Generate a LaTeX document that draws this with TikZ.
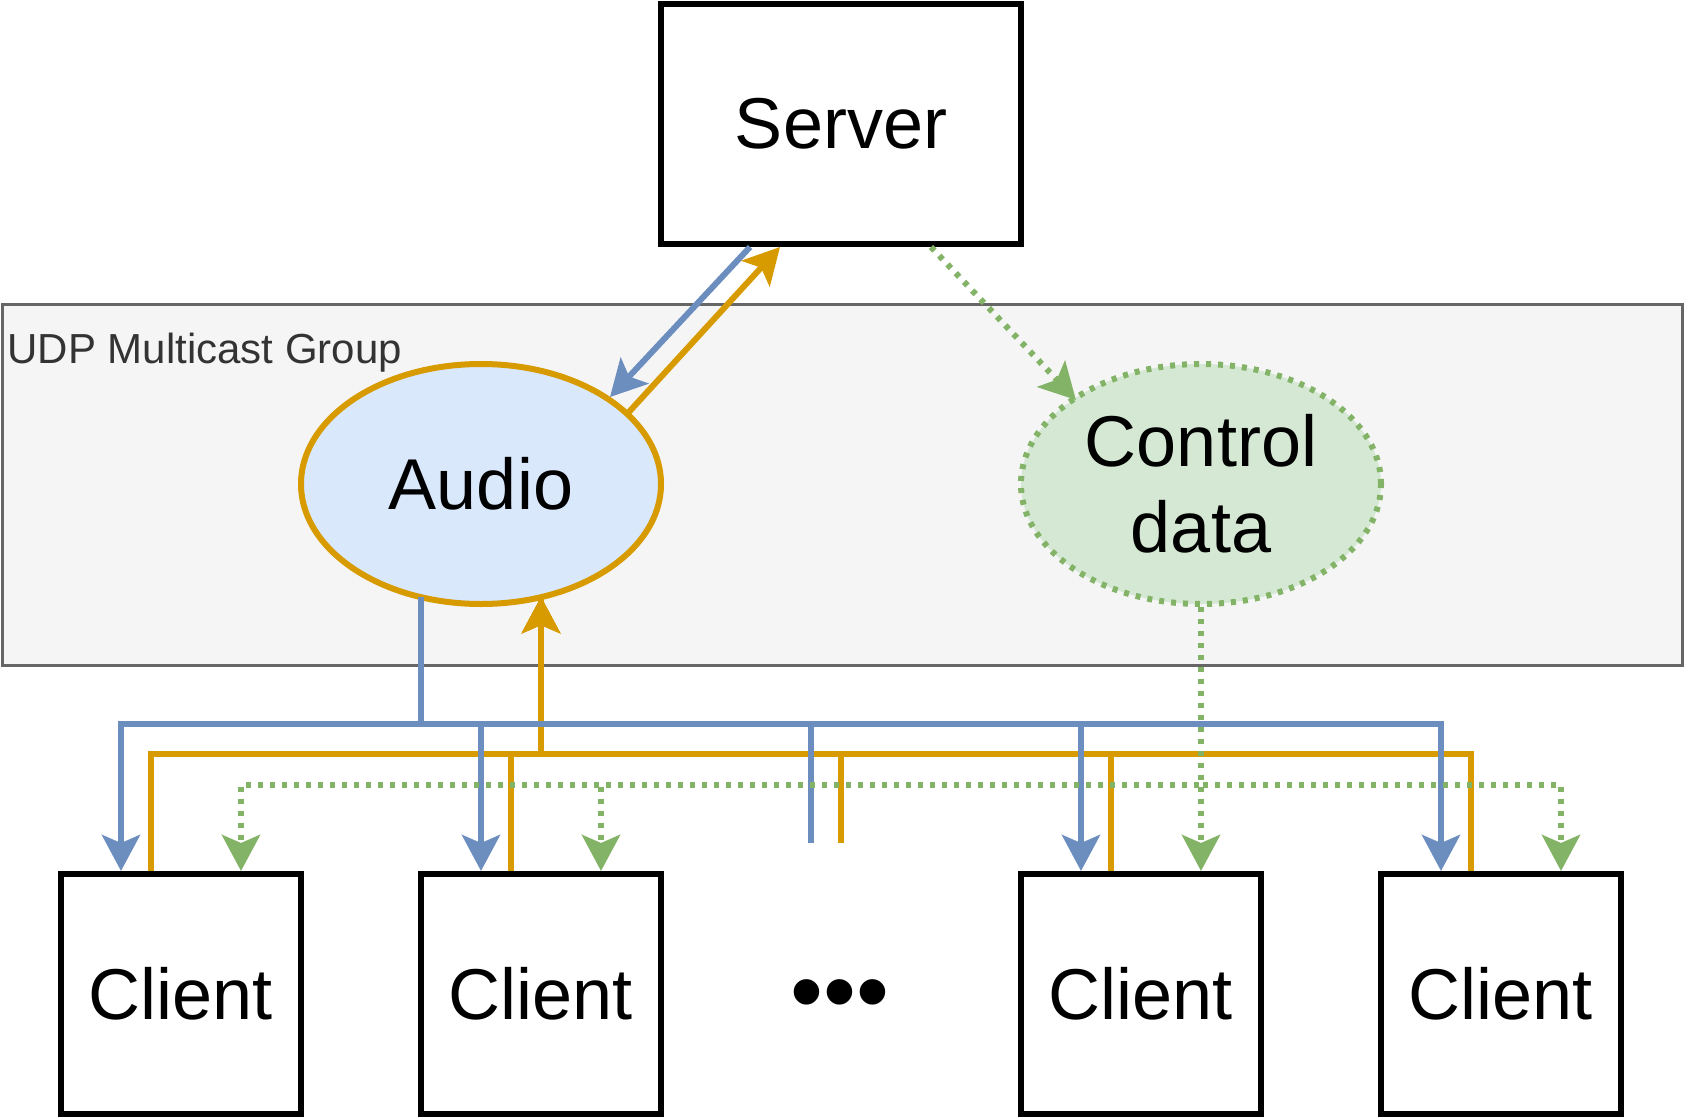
\documentclass[tikz,border=0pt]{standalone}
\usepackage{fontspec}
\setmainfont{Liberation Sans}
\usetikzlibrary{shapes, arrows.meta, positioning, calc}

\definecolor{downblue}{HTML}{6C8EBF}
\definecolor{audiofill}{HTML}{DAE8FC}
\definecolor{uporange}{HTML}{D79B00}
\definecolor{ctrlgreen}{HTML}{82B366}
\definecolor{ctrlfill}{HTML}{D5E8D4}
\definecolor{groupfill}{HTML}{F5F5F5}
\definecolor{groupline}{HTML}{666666}
\definecolor{grouptext}{HTML}{333333}

\begin{document}
\begin{tikzpicture}[x=0.5pt, y=-0.5pt,
    bigfont/.style={font=\fontsize{36}{43}\selectfont},
    machine/.style={draw, line width=3pt, inner sep=0pt, minimum width=120pt, minimum height=120pt, bigfont},
    cast/.style={ellipse, line width=3pt, inner sep=0pt, minimum width=180pt, minimum height=120pt, align=center, bigfont},
    arrowtip/.style={-{Stealth[length=18pt, width=19pt, inset=4pt]}},
    downlink/.style={draw=downblue, line width=3pt},
    uplink/.style={draw=uporange, line width=3pt},
    ctrllink/.style={draw=ctrlgreen, line width=3pt, dash pattern=on 2.5pt off 3.5pt}]

    \useasboundingbox (0,0) rectangle (1686,1119);

    % --- Multicast-Gruppe ---
    \node[draw=groupline, fill=groupfill, line width=1.5pt, minimum width=840pt, minimum height=180.5pt] (mcast) at (842, 484.5) {};
    \node[anchor=base west, inner sep=0pt, text=grouptext, font=\fontsize{21}{25}\selectfont] (mcastlabel) at (7, 363) {UDP Multicast Group};

    % Knoten
    \node[machine, minimum width=180pt] (server) at (841, 124) {Server};
    \node[cast, draw=uporange, fill=audiofill] (audio) at (481, 484) {Audio};
    \node[cast, draw=ctrlgreen, fill=ctrlfill, dash pattern=on 2.5pt off 3.5pt] (ctrl) at (1201, 484) {Control\\data};

    \node[machine] (c1) at (181, 994) {Client};
    \node[machine] (c2) at (541, 994) {Client};
    \node[machine] (c3) at (1141, 994) {Client};
    \node[machine] (c4) at (1501, 994) {Client};
    \node[inner sep=0pt, font=\fontsize{47}{52}\selectfont] (dots) at (840, 1002) {•••};

    % Hilfspunkte
    \coordinate (asrc) at ($(audio.center)+(-60,113)$);
    \coordinate (aout) at ($(audio.center)+(60,113)$);
    \coordinate (busb) at (0, 724);
    \coordinate (buso) at (0, 754);
    \coordinate (busg) at (0, 785);
    \coordinate (stubb) at (811, 843);
    \coordinate (stubo) at (841, 843);

    % Server <-> Audio / Control
    \draw[downlink, arrowtip] ([xshift=-45.5pt]server.south) -- ($(audio.center)+(129,-87)$);
    \draw[uplink, arrowtip] ($(audio.center)+(147,-71)$) -- ([xshift=-30.5pt]server.south);
    \draw[ctrllink, arrowtip] ([xshift=45pt]server.south) -- ($(ctrl.center)+(-125,-84)$);

    % Clients -> Audio (orange)
    \foreach \c in {c1, c2, c3, c4} {
        \coordinate (ot) at ([xshift=-15pt]\c.north);
        \draw[uplink, arrowtip] (ot) |- (aout |- buso) -- (aout);
    }
    \draw[uplink] (stubo) |- (aout |- buso) -- (aout);

    % Audio -> Clients (blau)
    \foreach \c in {c1, c2, c3, c4} {
        \coordinate (bt) at ([xshift=-30pt]\c.north);
        \draw[downlink, arrowtip] (asrc) |- (bt |- busb) -- (bt);
    }
    \draw[downlink] (asrc) |- (stubb |- busb) -- (stubb);

    % Control -> Clients (gruen)
    \foreach \c in {c1, c2, c3, c4} {
        \coordinate (gt) at ([xshift=30pt]\c.north);
        \draw[ctrllink, arrowtip] (ctrl.south) |- (gt |- busg) -- (gt);
    }

\end{tikzpicture}
\end{document}
